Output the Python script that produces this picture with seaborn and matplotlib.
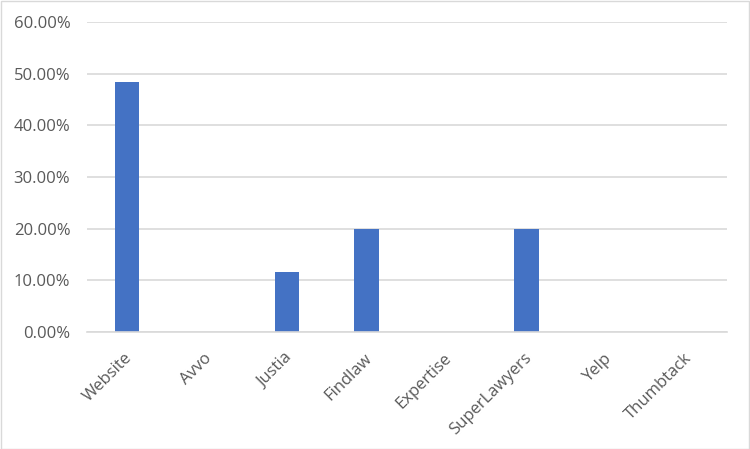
import matplotlib
matplotlib.use("Agg")
import matplotlib.pyplot as plt
import matplotlib.transforms as mtransforms
import seaborn as sns
import pandas as pd
from matplotlib.ticker import PercentFormatter, MultipleLocator

categories = ["Website", "Avvo", "Justia", "Findlaw", "Expertise", "SuperLawyers", "Yelp", "Thumbtack"]
values = [48.33, 0, 11.67, 20.0, 0, 20.0, 0, 0]

df = pd.DataFrame({"cat": categories, "val": values})

sns.set_theme(style="white")
plt.rcParams["font.family"] = ["Open Sans", "DejaVu Sans"]

fig = plt.figure(figsize=(7.5, 4.49), dpi=100)
ax = fig.add_axes([0.116, 0.2606, 0.853, 0.6904])

sns.barplot(data=df, x="cat", y="val", color="#4472C4", width=0.31, ax=ax,
            saturation=1, linewidth=0)

ax.set_ylim(0, 60)
ax.set_xlim(-0.5, len(categories) - 0.5)
ax.yaxis.set_major_locator(MultipleLocator(10))
ax.yaxis.set_major_formatter(PercentFormatter(decimals=2))
ax.set_xlabel("")
ax.set_ylabel("")
ax.grid(axis="y", color="#d9d9d9", linewidth=1.2)
ax.set_axisbelow(True)
for s in ["top", "right", "left"]:
    ax.spines[s].set_visible(False)
ax.spines["bottom"].set_color("#d9d9d9")
ax.spines["bottom"].set_linewidth(1.2)
ax.tick_params(axis="both", length=0, colors="#595959", labelsize=12)
ax.tick_params(axis="y", pad=12)
ax.tick_params(axis="x", pad=13)
offset = mtransforms.ScaledTranslation(-3 / 100, 0, fig.dpi_scale_trans)
for lbl in ax.get_xticklabels():
    lbl.set_rotation(45)
    lbl.set_ha("right")
    lbl.set_rotation_mode("anchor")
    lbl.set_transform(lbl.get_transform() + offset)

border = plt.Rectangle((0.001, 0.001), 0.998, 0.997, transform=fig.transFigure,
                       fill=False, edgecolor="#d9d9d9", linewidth=1)
fig.patches.append(border)

fig.savefig("out.png", dpi=100, facecolor="white")
